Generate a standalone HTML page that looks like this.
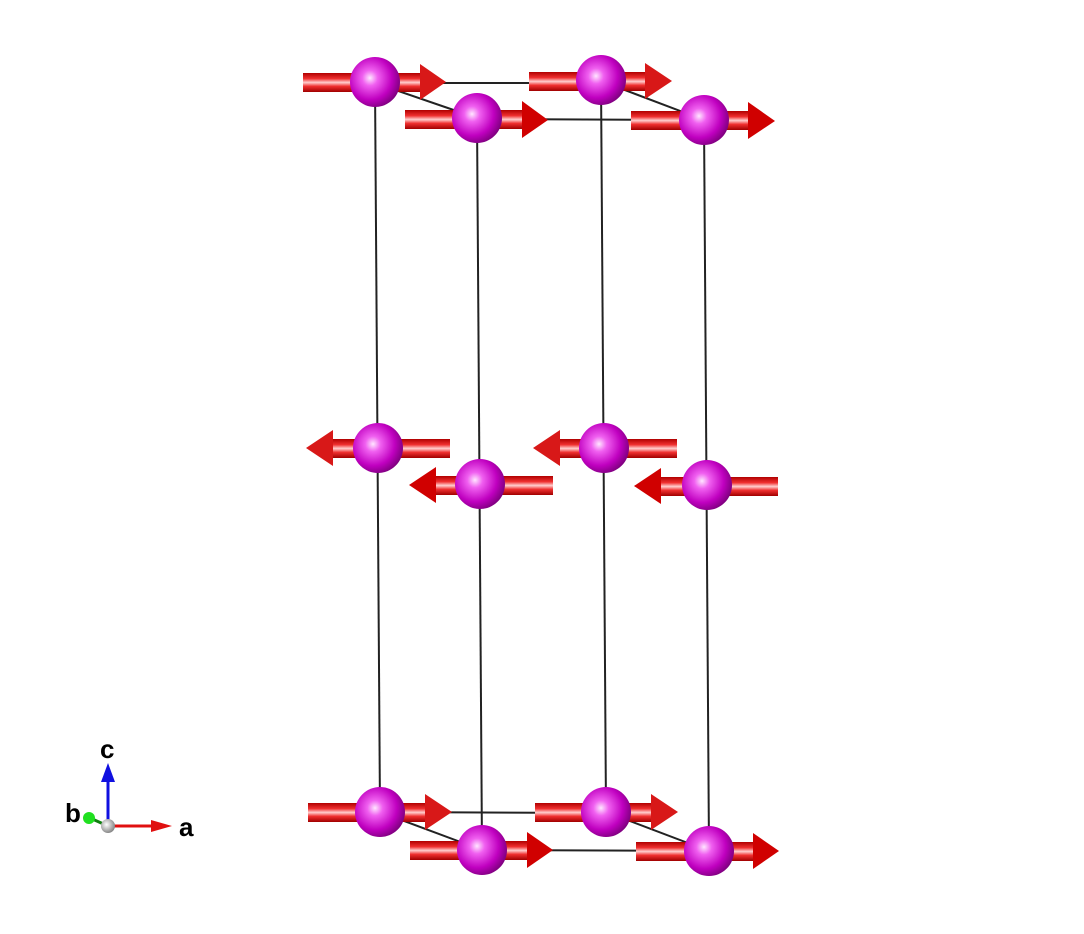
<!DOCTYPE html>
<html><head><style>body{margin:0;background:#fff}svg{display:block}</style></head><body>
<svg width="1084" height="934" viewBox="0 0 1084 934" xmlns="http://www.w3.org/2000/svg">
<defs>
<linearGradient id="rod" x1="0" y1="0" x2="0" y2="1">
<stop offset="0" stop-color="#b00000"/><stop offset="0.3" stop-color="#f03030"/><stop offset="0.5" stop-color="#ffd0d0"/><stop offset="0.7" stop-color="#f03030"/><stop offset="1" stop-color="#a00000"/></linearGradient>
<radialGradient id="atom" cx="0.4" cy="0.42" r="0.62">
<stop offset="0" stop-color="#ffe6ff"/><stop offset="0.25" stop-color="#f060f0"/><stop offset="0.7" stop-color="#c000c0"/><stop offset="1" stop-color="#800080"/></radialGradient>
<radialGradient id="wb" cx="0.4" cy="0.4" r="0.6"><stop offset="0" stop-color="#fff"/><stop offset="1" stop-color="#888"/></radialGradient>
</defs>
<g stroke="#222" stroke-width="2" fill="none">
<line x1="375" y1="83" x2="380" y2="812"/><line x1="477" y1="118" x2="482" y2="850"/>
<line x1="601" y1="81" x2="606" y2="812"/><line x1="704" y1="120" x2="709" y2="851"/>
<line x1="375" y1="83" x2="601" y2="83"/><line x1="477" y1="119" x2="704" y2="120"/>
<line x1="375" y1="83" x2="477" y2="118"/><line x1="601" y1="81" x2="704" y2="120"/>
<line x1="380" y1="812" x2="606" y2="813"/><line x1="482" y1="850" x2="709" y2="851"/>
<line x1="380" y1="812" x2="482" y2="850"/><line x1="606" y1="812" x2="709" y2="851"/>
</g>
<g id="atoms">
<!-- right arrows: rod x1..x2, head to tip, cy -->
<g>
<rect x="303" y="73" width="118" height="19" fill="url(#rod)"/><polygon points="420,64 446,82 420,100" fill="#d81818"/>
<circle cx="375" cy="82" r="25" fill="url(#atom)"/>
<rect x="529" y="72" width="118" height="19" fill="url(#rod)"/><polygon points="645,63 672,81 645,99" fill="#d81818"/>
<circle cx="601" cy="80" r="25" fill="url(#atom)"/>
<rect x="405" y="110" width="118" height="19" fill="url(#rod)"/><polygon points="522,101 548,120 522,138" fill="#d00000"/>
<circle cx="477" cy="118" r="25" fill="url(#atom)"/>
<rect x="631" y="111" width="118" height="19" fill="url(#rod)"/><polygon points="748,102 775,121 748,139" fill="#d00000"/>
<circle cx="704" cy="120" r="25" fill="url(#atom)"/>
</g>
<g>
<rect x="332" y="439" width="118" height="19" fill="url(#rod)"/><polygon points="333,430 306,448 333,466" fill="#d81818"/>
<circle cx="378" cy="448" r="25" fill="url(#atom)"/>
<rect x="559" y="439" width="118" height="19" fill="url(#rod)"/><polygon points="560,430 533,448 560,466" fill="#d81818"/>
<circle cx="604" cy="448" r="25" fill="url(#atom)"/>
<rect x="435" y="476" width="118" height="19" fill="url(#rod)"/><polygon points="436,467 409,485 436,503" fill="#d00000"/>
<circle cx="480" cy="484" r="25" fill="url(#atom)"/>
<rect x="660" y="477" width="118" height="19" fill="url(#rod)"/><polygon points="661,468 634,486 661,504" fill="#d00000"/>
<circle cx="707" cy="485" r="25" fill="url(#atom)"/>
</g>
<g>
<rect x="308" y="803" width="118" height="19" fill="url(#rod)"/><polygon points="425,794 452,812 425,830" fill="#d81818"/>
<circle cx="380" cy="812" r="25" fill="url(#atom)"/>
<rect x="535" y="803" width="117" height="19" fill="url(#rod)"/><polygon points="651,794 678,812 651,830" fill="#d81818"/>
<circle cx="606" cy="812" r="25" fill="url(#atom)"/>
<rect x="410" y="841" width="118" height="19" fill="url(#rod)"/><polygon points="527,832 553,850 527,868" fill="#d00000"/>
<circle cx="482" cy="850" r="25" fill="url(#atom)"/>
<rect x="636" y="842" width="118" height="19" fill="url(#rod)"/><polygon points="753,833 779,851 753,869" fill="#d00000"/>
<circle cx="709" cy="851" r="25" fill="url(#atom)"/>
</g>
</g>
<!-- axes -->
<line x1="108" y1="825" x2="108" y2="778" stroke="#1010e0" stroke-width="3"/>
<polygon points="101,782 108,763 115,782" fill="#1010e0"/>
<line x1="108" y1="826" x2="155" y2="826" stroke="#e01010" stroke-width="3"/>
<polygon points="151,820 172,826 151,832" fill="#e01010"/>
<line x1="90" y1="818" x2="108" y2="826" stroke="#108010" stroke-width="3"/>
<circle cx="89" cy="818" r="6" fill="#20e020"/>
<circle cx="108" cy="826" r="7" fill="url(#wb)"/>
<g font-family="Liberation Sans, sans-serif" font-weight="bold" font-size="26" fill="#000">
<text x="100" y="758">c</text><text x="65" y="822">b</text><text x="179" y="836">a</text>
</g>
</svg>
</body></html>
